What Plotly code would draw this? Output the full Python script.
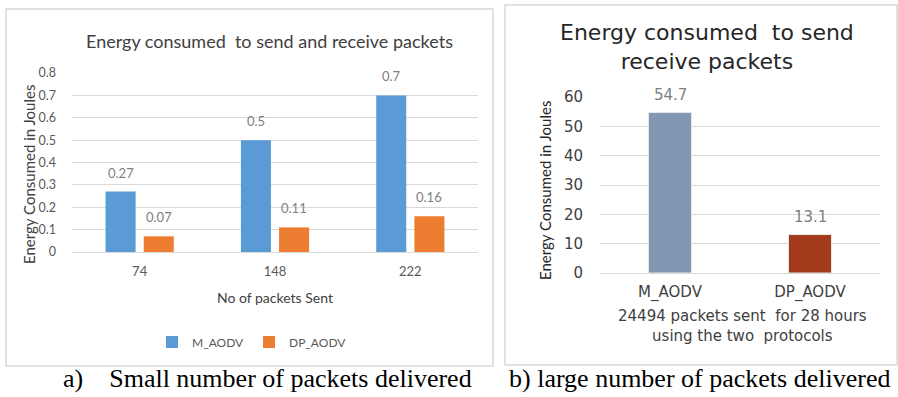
import plotly.graph_objects as go

# ---- data -------------------------------------------------------------
packets_sent = ["74", "148", "222"]
m_aodv_small = [0.27, 0.5, 0.7]
dp_aodv_small = [0.07, 0.11, 0.16]

protocols = ["M_AODV", "DP_AODV"]
energy_large = [54.7, 13.1]

y_ticks_small = [0, 0.1, 0.2, 0.3, 0.4, 0.5, 0.6, 0.7, 0.8]
y_ticks_large = [0, 10, 20, 30, 40, 50, 60]

# ---- styling ----------------------------------------------------------
W, H = 898, 397
BLUE, ORANGE = "#5B9BD5", "#ED7D31"
SLATE, RUST = "#8197B2", "#A33A1B"
GRID = "#D9D9D9"
TICK = "#595959"
LABEL = "#7F7F7F"
FONT_A = "Lato, 'Open Sans', sans-serif"
FONT_B = "'DejaVu Sans', Verdana, sans-serif"
SERIF = "'Liberation Serif', 'Times New Roman', serif"

# plot areas in pixels (left, right, top, bottom)
A = dict(l=72, r=478, t=73, b=252)
B = dict(l=600, r=880, t=97, b=273)


def dom_x(p):
    return [p["l"] / W, p["r"] / W]


def dom_y(p):
    return [1 - p["b"] / H, 1 - p["t"] / H]


def paper_text(px, py, text, font, **kw):
    """Text placed at a pixel position of the page, centred on it."""
    d = dict(x=px / W, y=1 - py / H, xref="paper", yref="paper", text=text,
             showarrow=False, xanchor="center", yanchor="middle", font=font)
    d.update(kw)
    return d


BAR_W = 0.222
GAP = 0.03

fig = go.Figure()
fig.add_trace(go.Bar(
    x=packets_sent, y=m_aodv_small, name="M_AODV",
    marker=dict(color=BLUE, line=dict(width=0)),
    width=BAR_W, offset=-GAP - BAR_W, xaxis="x", yaxis="y",
))
fig.add_trace(go.Bar(
    x=packets_sent, y=dp_aodv_small, name="DP_AODV",
    marker=dict(color=ORANGE, line=dict(width=0)),
    width=BAR_W, offset=GAP, xaxis="x", yaxis="y",
))

B_W = 0.307
fig.add_trace(go.Bar(
    x=protocols, y=energy_large, showlegend=False,
    marker=dict(color=[SLATE, RUST], line=dict(color="#E6E6E6", width=1)),
    width=B_W, offset=-B_W / 2, xaxis="x2", yaxis="y2",
))

annotations = []

# value labels above the bars (category axes take serial positions)
label_a = dict(family=FONT_A, size=13, color=LABEL)
for i, v in enumerate(m_aodv_small):
    annotations.append(dict(x=i - GAP - BAR_W / 2, y=v, xref="x", yref="y",
                            text=str(v), showarrow=False, yshift=9,
                            xanchor="center", yanchor="bottom", font=label_a))
for i, v in enumerate(dp_aodv_small):
    annotations.append(dict(x=i + GAP + BAR_W / 2, y=v, xref="x", yref="y",
                            text=str(v), showarrow=False, yshift=9,
                            xanchor="center", yanchor="bottom", font=label_a))
for i, v in enumerate(energy_large):
    annotations.append(dict(x=i, y=v, xref="x2", yref="y2", text=str(v),
                            showarrow=False, yshift=7, xanchor="center",
                            yanchor="bottom",
                            font=dict(family=FONT_B, size=15, color=LABEL)))

annotations += [
    # chart titles
    paper_text(269, 41, "Energy consumed\u00a0\u00a0to send and receive packets",
               dict(family=FONT_A, size=18, color="#404040")),
    paper_text(707, 47, "Energy consumed\u00a0\u00a0to send<br>receive packets",
               dict(family=FONT_B, size=22, color="#262626")),
    # axis titles
    paper_text(29, 175, "Energy Consumed in Joules",
               dict(family=FONT_A, size=15, color="#404040"), textangle=-90),
    paper_text(275, 297, "No of packets Sent",
               dict(family=FONT_A, size=14, color="#404040")),
    paper_text(545, 191, "Energy Consumed in Joules",
               dict(family=FONT_A, size=15, color="#262626"), textangle=-90),
    paper_text(742, 326,
               "24494 packets sent\u00a0\u00a0for 28 hours<br>using the two\u00a0\u00a0protocols",
               dict(family=FONT_B, size=15, color="#404040")),
    # captions
    paper_text(267, 378, "a)\u00a0\u00a0\u00a0\u00a0Small number of packets delivered",
               dict(family=SERIF, size=26, color="#000000")),
    paper_text(699, 378, "b) large number of packets delivered",
               dict(family=SERIF, size=26, color="#000000")),
]

shapes = [
    dict(type="rect", xref="paper", yref="paper",
         x0=6 / W, x1=493 / W, y0=1 - 366 / H, y1=1 - 9 / H,
         line=dict(color=GRID, width=1.5), fillcolor="rgba(0,0,0,0)"),
    dict(type="rect", xref="paper", yref="paper",
         x0=505 / W, x1=897 / W, y0=1 - 365 / H, y1=1 - 5 / H,
         line=dict(color=GRID, width=1.5), fillcolor="rgba(0,0,0,0)"),
]

fig.update_layout(
    width=W, height=H,
    margin=dict(l=0, r=0, t=0, b=0),
    paper_bgcolor="white", plot_bgcolor="white",
    barmode="overlay",
    showlegend=True,
    legend=dict(orientation="h", x=252 / W, y=1 - 342 / H,
                xanchor="center", yanchor="middle", itemwidth=30,
                font=dict(family=FONT_A, size=12, color=TICK)),
    xaxis=dict(domain=dom_x(A), type="category", range=[-0.5, 2.5],
               showgrid=False, showline=False, zeroline=False, ticks="",
               ticklabelstandoff=10, anchor="y", automargin=False,
               tickfont=dict(family=FONT_A, size=13, color=TICK)),
    yaxis=dict(domain=dom_y(A), range=[0, 0.8], tickvals=y_ticks_small,
               ticktext=[f"{t:g}" for t in y_ticks_small],
               showgrid=True, gridcolor=GRID, gridwidth=1,
               zeroline=True, zerolinecolor=GRID, zerolinewidth=1,
               showline=False, ticks="", ticklabelstandoff=15, anchor="x",
               automargin=False,
               tickfont=dict(family=FONT_A, size=12.5, color=TICK)),
    xaxis2=dict(domain=dom_x(B), type="category", range=[-0.5, 1.5],
                showgrid=False, showline=False, zeroline=False, ticks="",
                ticklabelstandoff=8, anchor="y2", automargin=False,
                tickfont=dict(family=FONT_B, size=15, color="#404040")),
    yaxis2=dict(domain=dom_y(B), range=[0, 60], tickvals=y_ticks_large,
                showgrid=True, gridcolor=GRID, gridwidth=1,
                zeroline=True, zerolinecolor=GRID, zerolinewidth=1,
                showline=False, ticks="", ticklabelstandoff=16, anchor="x2",
                automargin=False,
                tickfont=dict(family=FONT_B, size=15, color="#404040")),
    annotations=annotations,
    shapes=shapes,
)

fig.write_html("out.html")
